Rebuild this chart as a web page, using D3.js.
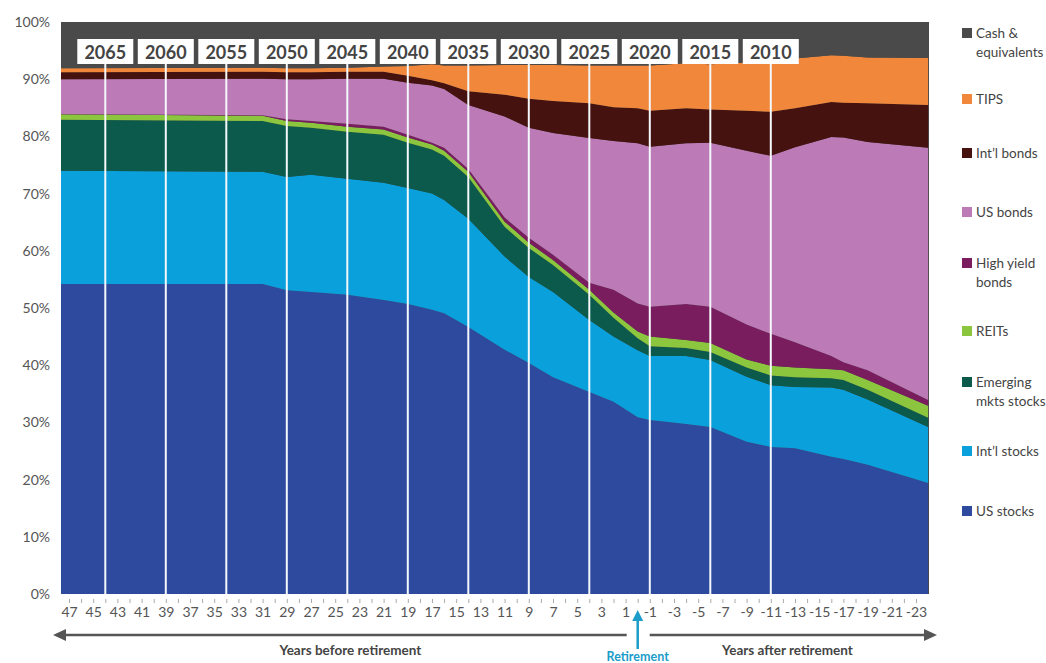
<!DOCTYPE html>
<html>
<head>
<meta charset="utf-8">
<script src="https://cdn.jsdelivr.net/npm/d3@7"></script>
<style>
  body { margin: 0; background: #fff; }
  text { font-family: Lato, "Open Sans", sans-serif; }
  .axis text { fill: #555; font-size: 14px; }
</style>
</head>
<body>
<div id="chart"></div>
<script>
// years before retirement (negative = after)
const years = [48, 31, 29, 27, 24, 21, 19, 17, 16, 14, 11, 9, 7, 4, 2, 0, -1, -4, -6, -9, -11, -13, -16, -17, -19, -24];

const usStocks   = [54.2, 54.2, 53.1, 52.8, 52.3, 51.4, 50.7, 49.7, 49.1, 46.7, 42.7, 40.4, 37.9, 35.3, 33.6, 30.9, 30.4, 29.7, 29.2, 26.6, 25.7, 25.5, 24.0, 23.6, 22.6, 19.4];
const intlStocks = [19.8, 19.6, 19.8, 20.5, 20.3, 20.5, 20.3, 20.3, 19.8, 18.9, 16.3, 15.0, 14.9, 12.6, 11.4, 11.7, 11.2, 11.9, 11.7, 11.4, 10.8, 10.7, 12.1, 12.1, 11.4, 9.8];
const emStocks   = [8.9, 8.9, 8.9, 8.2, 8.2, 8.4, 7.9, 7.7, 7.7, 7.3, 5.2, 5.1, 4.7, 4.4, 3.3, 2.1, 1.7, 1.4, 1.4, 1.6, 1.7, 1.7, 1.6, 1.7, 1.7, 1.6];
const reits      = [1.0, 0.9, 0.9, 0.9, 0.9, 0.9, 0.9, 0.9, 0.9, 0.9, 0.9, 0.9, 0.9, 0.9, 0.9, 1.2, 1.7, 1.4, 1.6, 1.4, 1.7, 1.7, 1.6, 1.7, 1.7, 2.1];
const highYield  = [0, 0.1, 0.3, 0.3, 0.5, 0.5, 0.5, 0.3, 0.5, 0.5, 0.7, 0.9, 0.9, 1.2, 4.0, 4.9, 5.2, 6.3, 6.3, 6.1, 5.6, 4.4, 2.3, 1.4, 1.7, 1.0];
const usBonds    = [6.1, 6.4, 7.0, 7.3, 7.9, 8.4, 9.1, 10.0, 10.3, 11.2, 17.7, 19.2, 21.3, 25.3, 26.0, 28.0, 28.0, 28.1, 28.7, 30.4, 31.1, 34.1, 38.3, 39.3, 39.9, 44.1];
const intlBonds  = [1.2, 1.2, 1.2, 1.2, 1.2, 1.2, 1.2, 0.9, 1.0, 2.4, 3.8, 5.1, 5.6, 6.1, 5.9, 6.1, 6.3, 6.1, 5.8, 7.0, 7.7, 6.8, 6.1, 6.1, 6.8, 7.5];
const tips       = [0.7, 0.7, 0.7, 0.7, 0.7, 0.9, 1.7, 2.8, 3.1, 4.5, 5.2, 5.9, 6.3, 6.6, 7.3, 7.5, 7.9, 7.9, 7.9, 8.4, 8.6, 8.7, 8.2, 8.2, 8.0, 8.2];
const cash       = [8.0, 8.0, 8.0, 8.0, 8.0, 7.9, 7.7, 7.5, 7.5, 7.5, 7.5, 7.5, 7.5, 7.5, 7.5, 7.5, 7.5, 7.2, 7.4, 7.1, 7.0, 6.3, 5.8, 5.8, 6.1, 6.3];

// target date funds and their years to retirement
const fundNames = ["2065", "2060", "2055", "2050", "2045", "2040", "2035", "2030", "2025", "2020", "2015", "2010"];
const fundYears = [44, 39, 34, 29, 24, 19, 14, 9, 4, -1, -6, -11];

const seriesKeys = ["us", "intl", "em", "reits", "hy", "usb", "intlb", "tips", "cash"];
const seriesValues = [usStocks, intlStocks, emStocks, reits, highYield, usBonds, intlBonds, tips, cash];
const seriesColors = ["#2d4a9e", "#0aa0dc", "#0b5a4c", "#8cc63f", "#7a1d5f", "#bc7bb7", "#46120f", "#f0873a", "#4a4a4a"];
const legendLines = [
  ["US stocks"], ["Int\u2019l stocks"], ["Emerging", "mkts stocks"], ["REITs"],
  ["High yield", "bonds"], ["US bonds"], ["Int\u2019l bonds"], ["TIPS"], ["Cash &", "equivalents"]
];

const width = 1046, height = 663;
const plotLeft = 61, plotRight = 929, plotTop = 22, plotBottom = 594;

const svg = d3.select("#chart").append("svg")
  .attr("width", width)
  .attr("height", height);

///////////////////////
// Scales
const x = d3.scaleLinear()
  .domain([47, -23])
  .range([69, 916]);

const y = d3.scaleLinear()
  .domain([0, 100])
  .range([plotBottom, plotTop]);

const table = years.map((yr, i) => {
  const row = {yr: yr};
  seriesKeys.forEach((k, j) => { row[k] = seriesValues[j][i]; });
  return row;
});

const stack = d3.stack().keys(seriesKeys);
const layers = stack(table);

svg.append("clipPath").attr("id", "plotclip")
  .append("rect")
  .attr("x", plotLeft).attr("y", plotTop)
  .attr("width", plotRight - plotLeft).attr("height", plotBottom - plotTop);

const plot = svg.append("g").attr("clip-path", "url(#plotclip)");

// background in cash colour so the top band is closed
plot.append("rect")
  .attr("x", plotLeft).attr("y", plotTop)
  .attr("width", plotRight - plotLeft).attr("height", plotBottom - plotTop)
  .attr("fill", seriesColors[8]);

const area = d3.area()
  .x(d => x(d.data.yr))
  .y0(d => y(d[0]))
  .y1(d => y(d[1]));

plot.selectAll(".layer")
  .data(layers)
  .enter().append("path")
  .attr("class", "layer")
  .attr("d", area)
  .attr("fill", (d, i) => seriesColors[i]);

///////////////////////
// Fund lines and labels
const boxW = 56, boxTop = 39, boxH = 25;

plot.selectAll(".fundline")
  .data(fundYears)
  .enter().append("line")
  .attr("x1", d => x(d)).attr("x2", d => x(d))
  .attr("y1", boxTop + boxH).attr("y2", plotBottom)
  .attr("stroke", "#f4f8fb")
  .attr("stroke-width", 2);

const fundG = svg.selectAll(".fund")
  .data(fundYears)
  .enter().append("g")
  .attr("transform", d => "translate(" + x(d) + ",0)");

fundG.append("rect")
  .attr("x", -boxW / 2).attr("y", boxTop)
  .attr("width", boxW).attr("height", boxH)
  .attr("fill", "#fff");

fundG.append("text")
  .attr("text-anchor", "middle")
  .attr("y", boxTop + 20)
  .style("font-size", "18px")
  .style("font-weight", "bold")
  .style("fill", "#444")
  .text((d, i) => fundNames[i]);

///////////////////////
// Axes
const yAxis = d3.axisLeft(y)
  .tickValues(d3.range(0, 101, 10))
  .tickSize(0)
  .tickPadding(11)
  .tickFormat(d => d + "%");

svg.append("g")
  .attr("class", "axis")
  .attr("transform", "translate(" + plotLeft + ",0)")
  .call(yAxis)
  .call(g => g.select(".domain").remove());

const xAxis = d3.axisBottom(x)
  .tickValues(d3.range(47, -24, -1))
  .tickSize(4)
  .tickPadding(4)
  .tickFormat(d => (Math.abs(d) % 2 === 1) ? String(d) : "");

svg.append("g")
  .attr("class", "axis")
  .attr("transform", "translate(0," + (plotBottom + 5) + ")")
  .call(xAxis)
  .call(g => g.select(".domain").remove())
  .call(g => g.selectAll(".tick line").attr("stroke", "#aaa"));

///////////////////////
// Before / after arrows
const arrowY = 635;
const x0 = x(0);
const axisColor = "#555";

svg.append("line")
  .attr("x1", 62).attr("x2", x0 - 11)
  .attr("y1", arrowY).attr("y2", arrowY)
  .attr("stroke", axisColor).attr("stroke-width", 2.5);
svg.append("path")
  .attr("d", "M53," + arrowY + "L66," + (arrowY - 6) + "L66," + (arrowY + 6) + "Z")
  .attr("fill", axisColor);

svg.append("line")
  .attr("x1", x0 + 12).attr("x2", 926)
  .attr("y1", arrowY).attr("y2", arrowY)
  .attr("stroke", axisColor).attr("stroke-width", 2.5);
svg.append("path")
  .attr("d", "M937," + arrowY + "L924," + (arrowY - 6) + "L924," + (arrowY + 6) + "Z")
  .attr("fill", axisColor);

svg.append("text")
  .attr("x", (53 + x0) / 2 + 5).attr("y", 655)
  .attr("text-anchor", "middle")
  .style("font-size", "13.5px").style("font-weight", "bold").style("fill", "#444")
  .text("Years before retirement");

svg.append("text")
  .attr("x", (x0 + 937) / 2).attr("y", 655)
  .attr("text-anchor", "middle")
  .style("font-size", "13.5px").style("font-weight", "bold").style("fill", "#444")
  .text("Years after retirement");

// retirement marker
const retColor = "#1b9cc9";
svg.append("line")
  .attr("x1", x0).attr("x2", x0)
  .attr("y1", 619).attr("y2", 649)
  .attr("stroke", retColor).attr("stroke-width", 2.5);
svg.append("path")
  .attr("d", "M" + x0 + ",610L" + (x0 - 5.5) + ",621L" + (x0 + 5.5) + ",621Z")
  .attr("fill", retColor);
svg.append("text")
  .attr("x", x0).attr("y", 661)
  .attr("text-anchor", "middle")
  .style("font-size", "12.5px").style("font-weight", "bold").style("fill", retColor)
  .text("Retirement");

///////////////////////
// Legend (top to bottom = reverse of stack)
const legendY = [511, 451, 382, 331, 263, 212, 153, 99, 33];
const legend = svg.selectAll(".legend")
  .data(seriesKeys)
  .enter().append("g")
  .attr("transform", (d, i) => "translate(962," + legendY[i] + ")");

legend.append("rect")
  .attr("x", 0).attr("y", -5)
  .attr("width", 10).attr("height", 10)
  .attr("fill", (d, i) => seriesColors[i]);

legend.each(function(d, i) {
  const t = d3.select(this).append("text")
    .attr("x", 14).attr("y", 5)
    .style("font-size", "13.5px").style("fill", "#444");
  legendLines[i].forEach((line, j) => {
    t.append("tspan").attr("x", 14).attr("dy", j === 0 ? 0 : 19).text(line);
  });
});
</script>
</body>
</html>
